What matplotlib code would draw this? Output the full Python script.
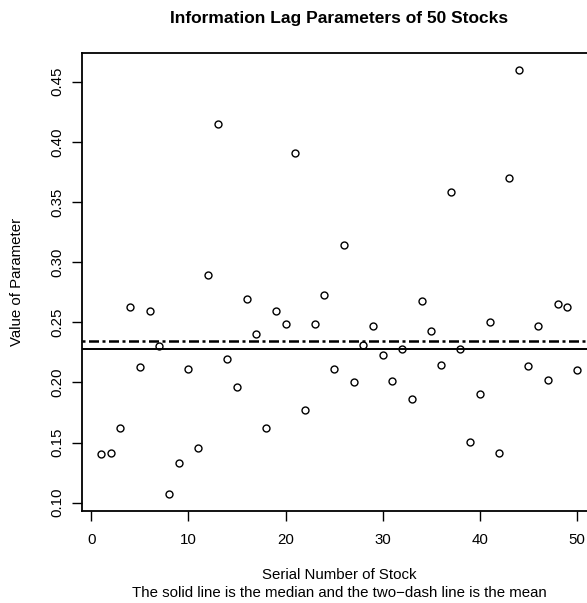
import numpy as np
import matplotlib
matplotlib.use('Agg')
import matplotlib.pyplot as plt

plt.rcParams['font.family'] = ['Liberation Sans', 'DejaVu Sans']

# information lag parameter for each of the 50 stocks
stock_no = list(range(1, 51))
lag_param = [
    0.1404, 0.1413, 0.1620, 0.2627, 0.2128, 0.2597, 0.2303, 0.1072, 0.1330, 0.2109,
    0.1454, 0.2894, 0.4147, 0.2198, 0.1965, 0.2697, 0.2400, 0.1620, 0.2597, 0.2483,
    0.3906, 0.1770, 0.2483, 0.2727, 0.2112, 0.3143, 0.2004, 0.2311, 0.2472, 0.2225,
    0.2012, 0.2275, 0.1862, 0.2677, 0.2431, 0.2142, 0.3584, 0.2278, 0.1505, 0.1900,
    0.2500, 0.1410, 0.3700, 0.4597, 0.2134, 0.2472, 0.2023, 0.2650, 0.2627, 0.2103,
]
x_ticks = [0, 10, 20, 30, 40, 50]
y_ticks = [0.10, 0.15, 0.20, 0.25, 0.30, 0.35, 0.40, 0.45]

med = np.median(lag_param)
avg = np.mean(lag_param)

fig = plt.figure(figsize=(5.87, 6.03), dpi=100)
# the right edge of the box falls outside the picture, as in the original
ax = fig.add_axes([82 / 587, 92 / 603, 514 / 587, 458 / 603])

ax.plot(stock_no, lag_param, 'o', mfc='none', mec='black', ms=5, mew=1)
ax.axhline(med, color='black', lw=1.4)
ax.axhline(avg, color='black', lw=1.8, dashes=(1.2, 1.4, 4.0, 1.4))

# R style 4% padding
xr = max(stock_no) - min(stock_no)
yr = max(lag_param) - min(lag_param)
ax.set_xlim(min(stock_no) - 0.04 * xr, max(stock_no) + 0.04 * xr)
ax.set_ylim(min(lag_param) - 0.04 * yr, max(lag_param) + 0.04 * yr)

ax.set_xticks(x_ticks)
ax.set_yticks(y_ticks)
ax.set_yticklabels([f'{v:.2f}' for v in y_ticks], rotation=90, va='center')
ax.tick_params(direction='out', length=7, width=1, labelsize=10.8)
ax.tick_params(axis='x', pad=9)
ax.tick_params(axis='y', pad=6)
for s in ax.spines.values():
    s.set_linewidth(1.3)

# texts are centred on the plot box, not on the figure
cx = 339 / 587
fig.text(cx, 1 - 19 / 603, 'Information Lag Parameters of 50 Stocks',
         ha='center', va='center', fontsize=12.5, fontweight='bold')
fig.text(cx, 1 - 575 / 603, 'Serial Number of Stock', ha='center', va='center', fontsize=10.8)
fig.text(cx, 1 - 593 / 603, 'The solid line is the median and the two\u2212dash line is the mean',
         ha='center', va='center', fontsize=10.8)
fig.text(17 / 587, 1 - 282 / 603, 'Value of Parameter', ha='center', va='center',
         rotation=90, fontsize=10.8)

fig.savefig('out.png', dpi=100)
